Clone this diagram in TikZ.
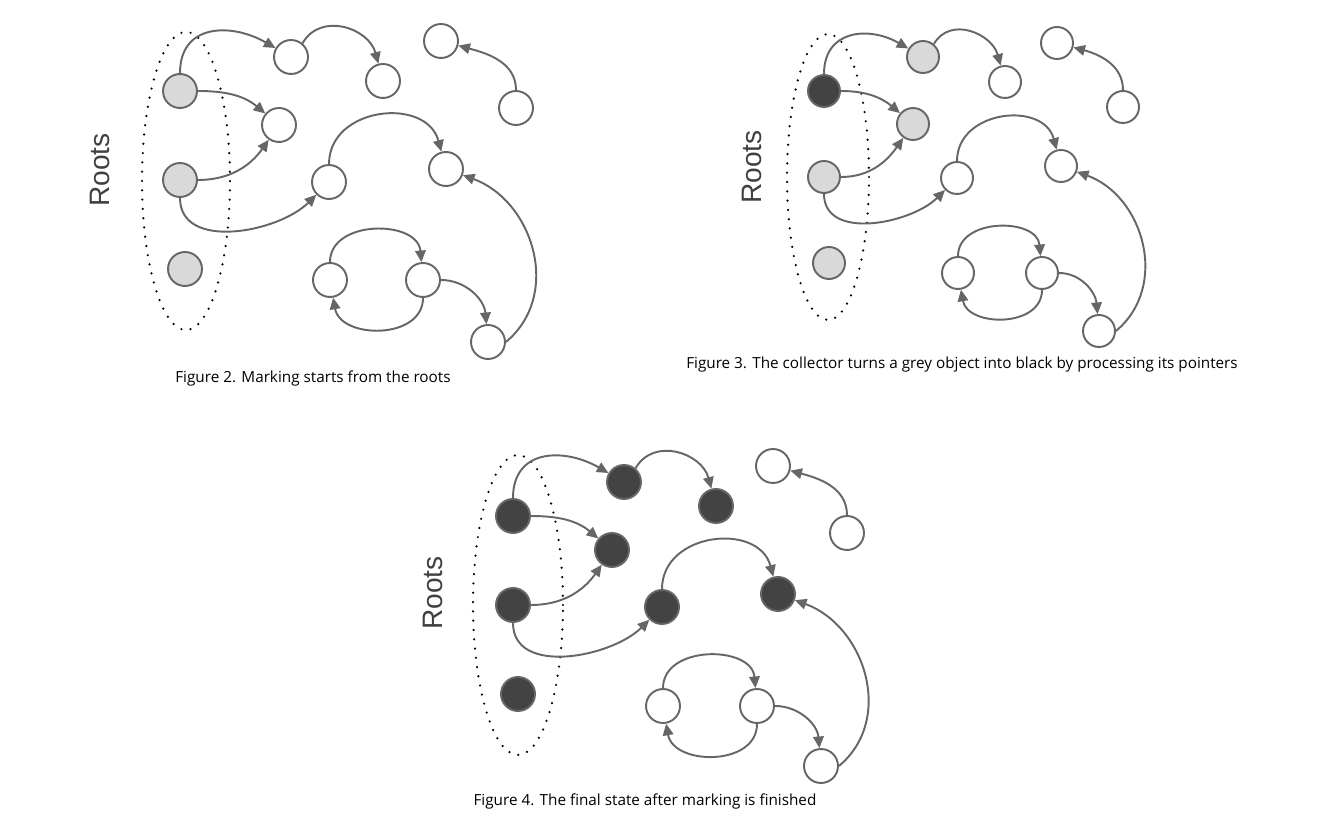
\documentclass[tikz,border=0pt]{standalone}
\usepackage{fontspec}
\setmainfont{Open Sans}
\newfontfamily\rootsfont{Liberation Sans}
\usetikzlibrary{arrows.meta,shapes.geometric}
\definecolor{linegrey}{RGB}{102,102,102}
\definecolor{markgrey}{RGB}{217,217,217}
\definecolor{markblack}{RGB}{67,67,67}
\begin{document}
\begin{tikzpicture}[
    x=0.02cm, y=0.02cm,
    >={Triangle[length=6.6pt,width=6pt]},
    obj/.style={
        circle,
        draw=linegrey,
        line width=1.1pt,
        fill=white,
        inner sep=0pt,
        minimum size=0.68cm
    },
    greyobj/.style={obj, fill=markgrey},
    blackobj/.style={obj, fill=markblack},
    ptr/.style={->, draw=linegrey, line width=1.1pt},
    rootset/.style={
        ellipse,
        draw=black,
        line width=1.4pt,
        line cap=round,
        dash pattern=on 0pt off 5.3pt,
        inner sep=0pt
    },
    rootlabel/.style={font=\rootsfont\fontsize{16}{18}\selectfont, text=black!75, rotate=90},
    caption/.style={font=\fontsize{8.7}{10}\selectfont}
]
\useasboundingbox (0,0) rectangle (1326,-817);

% FIGURE 2
\node[rootset, minimum width=1.76cm, minimum height=5.96cm] (f2set) at (186,-181) {};
\node[rootlabel] (f2lab) at (100,-170) {Roots};

\node[greyobj] (f2r1) at (180,-91)  {};
\node[greyobj] (f2r2) at (180,-180) {};
\node[greyobj] (f2r3) at (185,-269) {};
\node[obj] (f2t1)  at (291,-57)  {};
\node[obj] (f2t2)  at (383,-81)  {};
\node[obj] (f2mid) at (279,-125) {};
\node[obj] (f2i1)  at (441,-41)  {};
\node[obj] (f2i2)  at (516,-108) {};
\node[obj] (f2c1)  at (329,-182) {};
\node[obj] (f2c2)  at (446,-169) {};
\node[obj] (f2l1)  at (330,-280) {};
\node[obj] (f2l2)  at (423,-280) {};
\node[obj] (f2l3)  at (488,-342) {};

\draw[ptr] (f2r1.north) to[out=90,in=150,looseness=1.3] (f2t1);
\draw[ptr] (f2t1.50) to[out=60,in=105,looseness=1.2] (f2t2);
\draw[ptr] (f2r1.east) to[out=0,in=140] (f2mid);
\draw[ptr] (f2r2.east) to[out=0,in=235] (f2mid);
\draw[ptr] (f2r2.south) to[out=-90,in=225] (f2c1);
\draw[ptr] (f2c1.north) to[out=90,in=105,looseness=1.3] (f2c2);
\draw[ptr] (f2l3.east) to[out=40,in=-20,looseness=1.1] (f2c2);
\draw[ptr] (f2l1.north) to[out=90,in=95,looseness=1.2] (f2l2);
\draw[ptr] (f2l2.south) to[out=-90,in=-80,looseness=1.2] (f2l1);
\draw[ptr] (f2l2.east) to[out=0,in=95] (f2l3);
\draw[ptr] (f2i2.north) to[out=90,in=-15] (f2i1);

\node[caption] (f2cap) at (313,-378) {Figure 2. Marking starts from the roots};

% FIGURE 3
\node[rootset, minimum width=1.64cm, minimum height=5.72cm] (f3set) at (828,-177) {};
\node[rootlabel] (f3lab) at (752,-167) {Roots};

\node[blackobj, minimum size=0.64cm] (f3r1) at (824,-91)  {};
\node[greyobj, minimum size=0.64cm] (f3r2) at (824,-177) {};
\node[greyobj, minimum size=0.64cm] (f3r3) at (829,-263) {};
\node[greyobj, minimum size=0.64cm] (f3t1)  at (923,-57)  {};
\node[obj, minimum size=0.64cm] (f3t2)  at (1005,-82)  {};
\node[greyobj, minimum size=0.64cm] (f3mid) at (913,-124) {};
\node[obj, minimum size=0.64cm] (f3i1)  at (1057,-43)  {};
\node[obj, minimum size=0.64cm] (f3i2)  at (1123,-107) {};
\node[obj, minimum size=0.64cm] (f3c1)  at (957,-178) {};
\node[obj, minimum size=0.64cm] (f3c2)  at (1061,-166) {};
\node[obj, minimum size=0.64cm] (f3l1)  at (958,-273) {};
\node[obj, minimum size=0.64cm] (f3l2)  at (1042,-273) {};
\node[obj, minimum size=0.64cm] (f3l3)  at (1099,-331) {};

\draw[ptr] (f3r1.north) to[out=90,in=150,looseness=1.3] (f3t1);
\draw[ptr] (f3t1.50) to[out=60,in=105,looseness=1.2] (f3t2);
\draw[ptr] (f3r1.east) to[out=0,in=140] (f3mid);
\draw[ptr] (f3r2.east) to[out=0,in=235] (f3mid);
\draw[ptr] (f3r2.south) to[out=-90,in=225] (f3c1);
\draw[ptr] (f3c1.north) to[out=90,in=105,looseness=1.3] (f3c2);
\draw[ptr] (f3l3.east) to[out=40,in=-20,looseness=1.1] (f3c2);
\draw[ptr] (f3l1.north) to[out=90,in=95,looseness=1.2] (f3l2);
\draw[ptr] (f3l2.south) to[out=-90,in=-80,looseness=1.2] (f3l1);
\draw[ptr] (f3l2.east) to[out=0,in=95] (f3l3);
\draw[ptr] (f3i2.north) to[out=90,in=-15] (f3i1);

\node[caption] (f3cap) at (962,-365) {Figure 3. The collector turns a grey object into black by processing its pointers};

% FIGURE 4
\node[rootset, minimum width=1.8cm, minimum height=6.0cm] (f4set) at (518,-605) {};
\node[rootlabel] (f4lab) at (433,-593) {Roots};

\node[blackobj] (f4r1) at (513,-516) {};
\node[blackobj] (f4r2) at (513,-605) {};
\node[blackobj] (f4r3) at (518,-694) {};
\node[blackobj] (f4t1)  at (624,-482) {};
\node[blackobj] (f4t2)  at (716,-506) {};
\node[blackobj] (f4mid) at (612,-550) {};
\node[obj] (f4i1)  at (773,-466) {};
\node[obj] (f4i2)  at (847,-533) {};
\node[blackobj] (f4c1)  at (662,-607) {};
\node[blackobj] (f4c2)  at (778,-594) {};
\node[obj] (f4l1)  at (663,-706) {};
\node[obj] (f4l2)  at (757,-706) {};
\node[obj] (f4l3)  at (821,-766) {};

\draw[ptr] (f4r1.north) to[out=90,in=150,looseness=1.3] (f4t1);
\draw[ptr] (f4t1.50) to[out=60,in=105,looseness=1.2] (f4t2);
\draw[ptr] (f4r1.east) to[out=0,in=140] (f4mid);
\draw[ptr] (f4r2.east) to[out=0,in=235] (f4mid);
\draw[ptr] (f4r2.south) to[out=-90,in=225] (f4c1);
\draw[ptr] (f4c1.north) to[out=90,in=105,looseness=1.3] (f4c2);
\draw[ptr] (f4l3.east) to[out=40,in=-20,looseness=1.1] (f4c2);
\draw[ptr] (f4l1.north) to[out=90,in=95,looseness=1.2] (f4l2);
\draw[ptr] (f4l2.south) to[out=-90,in=-80,looseness=1.2] (f4l1);
\draw[ptr] (f4l2.east) to[out=0,in=95] (f4l3);
\draw[ptr] (f4i2.north) to[out=90,in=-15] (f4i1);

\node[caption] (f4cap) at (645,-801) {Figure 4. The final state after marking is finished};

\end{tikzpicture}
\end{document}
